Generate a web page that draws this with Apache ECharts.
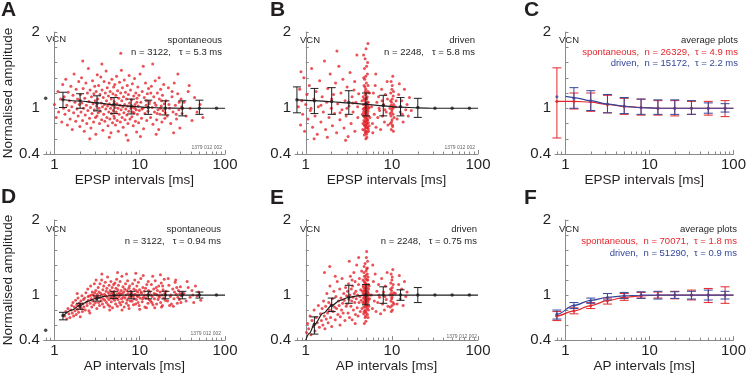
<!DOCTYPE html>
<html>
<head>
<meta charset="utf-8">
<title>VCN normalised amplitude vs interval</title>
<script src="https://cdn.jsdelivr.net/npm/echarts@6/dist/echarts.min.js"></script>
<style>
  html, body { margin: 0; padding: 0; background: #fff; }
  #chart { width: 749px; height: 374px; }
</style>
</head>
<body>
<div id="chart"></div>
<script>
// shared bin centres (ms) and tick values
var bins = [0.79, 1.26, 2, 3.16, 5, 7.94, 12.6, 20, 31.6, 50.1, 79.4];
var xTickLabels = [1, 10, 100];
var xMinorTicks = [0.8, 0.9, 2, 3, 4, 5, 6, 7, 8, 9, 20, 30, 40, 50, 60, 70, 80, 90];
var yTickLabels = [0.4, 1, 2];

// A: EPSP, spontaneous
var epspSpontPts = [[1.0,1.05],[1.05,0.88],[1.1,1.22],[1.12,0.95],[1.18,1.12],[1.22,0.82],[1.25,1.31],[1.28,1.0],
  [1.3,1.15],[1.33,0.92],[1.36,1.38],[1.4,1.04],[1.42,0.78],[1.45,1.21],[1.48,0.97],[1.5,1.1],[1.53,0.86],[1.56,1.29],[1.6,1.02],[1.62,0.72],[1.65,1.17],[1.68,0.94],[1.7,1.45],[1.74,1.08],[1.78,0.83],[1.8,1.25],[1.84,0.99],[1.87,1.12],[1.9,0.9],[1.93,1.35],[1.96,1.05],[1.99,0.76],
  [2.02,1.18],[2.05,0.95],[2.08,1.4],[2.1,1.07],[2.14,0.84],[2.17,1.26],[2.2,1.0],[2.24,0.7],[2.27,1.13],[2.3,0.91],[2.34,1.33],[2.37,1.04],[2.4,0.8],[2.44,1.2],[2.47,0.97],[2.5,1.52],[2.54,1.09],[2.58,0.87],[2.62,1.24],[2.65,1.01],[2.68,0.74],[2.72,1.15],[2.76,0.93],[2.8,1.36],[2.84,1.06],[2.88,0.82],[2.9,1.19],[2.94,0.98],[2.97,1.29],[3.0,1.1],[3.03,0.88],[3.06,0.66],[3.09,1.22],[3.12,1.03],[3.15,0.9],[3.18,1.44],[2.15,1.62],[2.6,0.6],
  [3.22,1.12],[3.26,0.94],[3.3,1.3],[3.34,1.0],[3.38,0.8],[3.42,1.18],[3.46,0.96],[3.5,1.41],[3.54,1.07],[3.58,0.85],[3.62,1.24],[3.66,1.02],[3.7,0.71],[3.74,1.14],[3.78,0.92],[3.82,1.35],[3.86,1.05],[3.9,0.83],[3.95,1.2],[4.0,0.99],[4.04,1.49],[4.08,1.1],[4.12,0.88],[4.16,1.27],[4.2,1.03],[4.25,0.77],[4.3,1.16],[4.34,0.95],[4.38,1.33],[4.42,1.06],[4.46,0.86],[4.5,1.22],[4.55,1.0],[4.6,0.68],[4.64,1.12],[4.68,0.93],[4.72,1.38],[4.76,1.04],[4.8,0.81],[4.85,1.19],[4.9,0.97],[4.95,1.28],[4.98,0.9],[3.6,1.58],[4.4,0.62],
  [5.02,1.09],[5.06,0.87],[5.1,1.31],[5.15,1.01],[5.2,0.78],[5.25,1.17],[5.3,0.95],[5.35,1.42],[5.4,1.06],[5.45,0.84],[5.5,1.23],[5.56,1.0],[5.62,0.7],[5.68,1.13],[5.74,0.92],[5.8,1.34],[5.86,1.04],[5.92,0.82],[5.98,1.2],[6.04,0.98],[6.1,1.5],[6.16,1.1],[6.22,0.88],[6.28,1.27],[6.34,1.02],[6.4,0.75],[6.46,1.15],[6.52,0.94],[6.6,1.37],[6.66,1.05],[6.72,0.85],[6.8,1.21],[6.86,0.99],[6.92,0.65],[7.0,1.12],[7.06,0.91],[7.14,1.3],[7.2,1.03],[7.28,0.8],[7.36,1.18],[7.44,0.96],[7.52,1.43],[7.6,1.07],[7.7,0.86],[7.8,1.24],[7.9,1.0],[6.0,1.72],[7.3,0.58],
  [8.0,1.11],[8.1,0.89],[8.2,1.32],[8.3,1.02],[8.4,0.77],[8.5,1.16],[8.6,0.94],[8.7,1.39],[8.8,1.05],[8.9,0.83],[9.0,1.2],[9.1,0.98],[9.2,0.69],[9.3,1.13],[9.4,0.92],[9.5,1.28],[9.6,1.03],[9.7,0.81],[9.8,1.17],[9.9,0.97],[10.1,1.45],[10.3,1.08],[10.5,0.87],[10.7,1.22],[10.9,1.0],[11.1,0.73],[11.3,1.14],[11.5,0.93],[11.7,1.33],[11.9,1.04],[12.1,0.84],[12.3,1.19],[12.5,0.96],[12.7,1.26],[12.9,1.06],[10.2,0.63],[11.0,1.55],[8.25,0.95],[9.25,1.08],[10.6,0.99],[12.0,1.1],[8.75,1.0],
  [13.1,1.09],[13.4,0.88],[13.7,1.29],[14.0,1.01],[14.3,0.79],[14.6,1.15],[14.9,0.95],[15.2,1.36],[15.5,1.04],[15.8,0.85],[16.1,1.2],[16.4,0.98],[16.7,0.72],[17.0,1.12],[17.3,0.92],[17.6,1.25],[17.9,1.03],[18.2,0.82],[18.5,1.17],[18.8,0.97],[19.1,1.31],[19.4,1.06],[19.7,0.87],[14.2,1.58],[15.0,1.07],[16.0,0.93],[17.5,1.0],[18.0,1.1],[13.5,1.2],[19.9,0.94],[15.6,0.66],[16.9,1.4],
  [20.3,1.1],[21.0,0.9],[21.7,1.27],[22.4,1.0],[23.1,0.8],[23.9,1.15],[24.6,0.95],[25.4,1.33],[26.2,1.04],[27.0,0.86],[27.9,1.19],[28.8,0.98],[29.6,0.74],[30.5,1.12],[31.4,0.93],[22.0,1.05],[24.0,1.22],[26.8,0.92],[29.0,1.08],[25.0,0.68],[28.0,1.45],[31.0,1.02],
  [33,1.08],[35,0.9],[37,1.22],[39,1.0],[41,0.84],[44,1.14],[47,0.95],[51,1.05],[55,0.88],[38,1.3]];
var epspSpontMean = [1.13, 1.11, 1.097, 1.066, 1.053, 1.03, 1.01, 1.0, 1.0, 1.0, 1.0];
var epspSpontLo = [null, 1.01, 1.0, 0.965, 0.93, 0.925, 0.92, 0.912, 0.9, 0.92, null];
var epspSpontHi = [null, 1.21, 1.19, 1.163, 1.14, 1.12, 1.106, 1.097, 1.097, 1.106, null];
var epspSpontFit = [[1.26,1.115],[2,1.095],[3.16,1.07],[5,1.045],[7.94,1.025],[12.6,1.01],[20,1.003],[31.6,1.0],[100,1.0]];

// B: EPSP, driven
var epspDrivenPts = [[0.82,1.02],[0.85,1.25],[0.87,0.78],[0.9,1.1],[0.92,0.92],[0.95,1.4],[0.97,0.7],[1.0,1.05],[1.03,1.18],[1.06,0.86],[1.1,1.3],[1.13,0.97],[1.17,1.52],[1.2,0.75],[1.24,1.12],[1.28,0.9],[1.32,1.22],[1.36,0.66],[1.4,1.02],[1.45,1.36],[1.5,0.82],[1.55,1.15],[1.6,0.95],[1.65,1.62],[1.7,0.72],[1.75,1.08],[1.8,1.26],[1.86,0.88],[1.92,1.45],[1.98,1.0],[2.04,0.77],[2.1,1.18],[2.16,0.93],[2.22,1.33],[2.28,0.68],[2.35,1.06],[2.42,1.55],[2.49,0.85],[2.56,1.2],[2.63,0.98],[2.7,1.38],[2.78,0.74],[2.86,1.1],[2.94,0.9],[3.02,1.28],[3.1,0.63],[3.18,1.03],[3.27,1.47],[3.36,0.8],[3.45,1.15],[3.54,0.95],[3.63,1.24],[3.72,0.7],[3.82,1.08],[3.92,1.7],[4.02,0.88],[4.12,1.19],[1.15,1.0],[1.5,1.04],[2.0,1.12],[2.5,0.94],[3.0,1.0],[3.5,1.07],[4.0,1.02],[1.25,0.6],[2.3,1.75],[0.88,1.48],[1.78,0.62],[2.9,0.58],[3.7,1.35],
  [4.6,0.72],[4.7,0.95],[4.75,1.3],[4.8,0.82],[4.85,1.1],[4.9,0.68],[4.95,1.02],[5.0,0.88],[5.05,1.2],[5.1,0.76],[5.15,0.98],[5.2,1.45],[5.25,0.85],[5.3,1.08],[5.35,0.7],[4.65,1.15],[4.72,0.9],[4.78,0.78],[4.83,1.38],[4.88,1.0],[4.93,0.74],[4.98,1.25],[5.03,0.92],[5.08,0.66],[5.13,1.12],[5.18,0.8],[5.23,1.6],[5.28,0.96],[5.33,0.73],[4.68,1.05],[4.74,0.84],[4.8,1.52],[4.86,0.77],[4.91,1.18],[4.96,0.94],[5.01,0.7],[5.06,1.33],[5.11,0.86],[5.16,1.04],[5.21,0.75],[5.26,1.22],[5.31,0.9],[4.62,0.8],[4.7,1.7],[4.77,1.0],[4.82,0.71],[4.87,1.28],[4.92,0.87],[4.97,1.42],[5.02,0.79],[5.07,1.06],[5.12,0.62],[5.17,1.15],[5.22,0.93],[5.27,1.85],[5.32,0.81],[5.4,1.0],[5.45,0.77],[5.5,1.2],[4.55,0.92],[4.5,1.1],[5.55,0.88],[4.84,0.97],[4.94,0.83],[5.04,1.0],[5.14,0.9],[5.24,1.08],[4.76,1.12],[4.99,0.6],[5.09,1.55],[4.89,1.65],[5.19,0.69],[4.81,0.89],[5.0,1.13],[4.91,1.06],[5.06,0.96],[4.96,0.78],[5.11,0.74],[4.86,0.93],[5.01,1.78],[4.71,1.4],[5.29,1.3],[4.79,0.65],[5.34,1.02],[4.64,0.99],[5.16,0.84],[4.9,1.22],[5.05,0.82],[4.98,1.03],[5.2,1.0],
  [5.8,1.02],[5.95,0.8],[6.1,1.2],[6.25,0.92],[6.4,1.3],[6.55,0.75],[6.7,1.08],[6.85,0.88],[7.0,1.15],[7.2,0.97],[7.4,0.72],[7.6,1.25],[7.8,0.9],[8.0,1.05],[8.2,0.82],[8.4,1.18],[8.6,0.95],[8.8,1.35],[9.0,0.78],[6.0,0.68],[6.5,1.45],[7.1,1.0],[7.7,1.1],[8.3,0.98],[8.9,1.12],
  [9.5,1.0],[9.6,0.8],[9.7,1.2],[9.75,0.9],[9.8,1.35],[9.85,0.72],[9.9,1.08],[9.95,0.95],[10.0,1.25],[10.05,0.85],[10.1,1.12],[10.15,0.78],[10.2,1.02],[10.25,1.42],[10.3,0.92],[10.35,1.16],[10.4,0.7],[10.5,1.05],[10.6,0.88],[9.65,1.1],[9.9,0.82],[10.0,0.98],[10.1,1.3],[10.2,0.76],[9.8,1.04],[10.3,1.0],[9.55,0.93],[10.45,1.22],
  [11,1.02],[11.5,0.86],[12,1.18],[12.5,0.95],[13,1.1],[13.5,0.82],[14,1.25],[14.5,0.98],[15,1.05],[15.5,0.9],[16,1.14],[12.2,1.32],[13.2,0.92],[11.2,1.1],[16.8,0.97]];
var epspDrivenMean = [1.11, 1.10, 1.09, 1.075, 1.06, 1.035, 1.02, 1.01, 1.0, 1.0, 1.0];
var epspDrivenLo = [0.94, 0.93, 0.92, 0.92, 0.9, 0.9, 0.9, 0.88, null, null, null];
var epspDrivenHi = [1.28, 1.26, 1.27, 1.23, 1.2, 1.17, 1.14, 1.13, null, null, null];
var epspDrivenFit = [[0.79,1.11],[1.26,1.1],[2,1.085],[3.16,1.07],[5,1.05],[7.94,1.03],[12.6,1.015],[20,1.005],[31.6,1.0],[100,1.0]];

// C: EPSP, average plots
var epspAvgSpontMean = [1.09, 1.09, 1.085, 1.045, 1.02, 1.01, 1.0, 1.0, 1.0, 1.0, 1.0];
var epspAvgSpontLo = [0.61, 0.99, 0.96, 0.94, 0.92, 0.91, 0.91, 0.9, 0.92, 0.91, 0.89];
var epspAvgSpontHi = [1.53, 1.2, 1.2, 1.17, 1.13, 1.12, 1.1, 1.1, 1.09, 1.09, 1.1];
var epspAvgSpontFit = [[0.76,1.09],[1.26,1.09],[2,1.08],[3.16,1.05],[5,1.025],[7.94,1.01],[12.6,1.0],[100,1.0]];
var epspAvgDrivenMean = [1.15, 1.13, 1.10, 1.055, 1.03, 1.01, 1.0, 1.0, 1.0, 1.0, 1.0];
var epspAvgDrivenLo = [null, 1.0, 0.97, 0.94, 0.93, 0.92, 0.92, 0.92, 0.92, 0.935, 0.95];
var epspAvgDrivenHi = [null, 1.27, 1.23, 1.18, 1.14, 1.12, 1.11, 1.11, 1.1, 1.07, 1.06];
var epspAvgDrivenFit = [[1.0,1.155],[1.26,1.14],[2,1.1],[3.16,1.055],[5,1.025],[7.94,1.008],[12.6,1.0],[100,1.0]];

// D: AP, spontaneous
var apSpontPts = [[1.32,0.72],[1.36,0.78],[1.4,0.68],[1.44,0.82],[1.48,0.75],[1.52,0.7],[1.56,0.8],[1.6,0.86],
  [1.62,0.76],[1.65,0.9],[1.68,0.72],[1.71,0.84],[1.74,0.79],[1.77,0.93],[1.8,0.74],[1.83,0.87],[1.86,0.81],[1.89,0.96],[1.92,0.77],[1.95,0.89],[1.98,0.84],[2.01,0.71],[2.04,0.92],[2.07,0.82],[2.1,0.99],[2.13,0.78],[2.16,0.88],[2.19,0.94],[1.85,1.02],[2.0,0.86],
  [2.22,0.84],[2.26,0.96],[2.3,0.8],[2.34,1.03],[2.38,0.9],[2.42,0.86],[2.46,1.08],[2.5,0.93],[2.54,0.79],[2.58,0.99],[2.62,0.89],[2.66,1.12],[2.7,0.95],[2.74,0.84],[2.78,1.04],[2.82,0.92],[2.86,1.0],[2.9,0.87],[2.94,1.15],[2.98,0.97],[3.02,0.9],[3.06,1.06],[3.1,0.95],[3.14,0.82],[3.18,1.01],[2.48,0.98],[2.72,1.0],[2.96,1.03],[3.08,1.2],[2.6,0.76],
  [3.22,0.98],[3.26,1.1],[3.3,0.9],[3.34,1.04],[3.38,0.86],[3.42,1.15],[3.46,0.96],[3.5,1.02],[3.54,0.92],[3.58,1.2],[3.62,1.0],[3.66,0.88],[3.7,1.07],[3.74,0.95],[3.78,1.12],[3.82,0.84],[3.86,1.01],[3.9,0.93],[3.95,1.17],[4.0,0.99],[4.04,1.05],[4.08,0.9],[4.12,1.09],[4.16,0.97],[4.2,1.24],[4.25,0.87],[4.3,1.03],[4.34,0.94],[4.38,1.13],[4.42,1.0],[4.46,0.85],[4.5,1.06],[4.55,0.96],[4.6,1.18],[4.64,0.91],[4.68,1.02],[4.72,0.98],[4.76,1.1],[4.8,0.83],[4.85,1.04],[4.9,0.95],[4.95,1.14],[4.98,1.0],[3.6,1.28],[4.45,0.8],
  [5.02,1.05],[5.07,0.93],[5.12,1.16],[5.17,0.99],[5.22,0.88],[5.27,1.09],[5.32,0.96],[5.37,1.21],[5.42,1.01],[5.47,0.85],[5.52,1.07],[5.58,0.94],[5.64,1.13],[5.7,0.98],[5.76,1.03],[5.82,0.9],[5.88,1.18],[5.94,1.0],[6.0,0.87],[6.06,1.06],[6.12,0.95],[6.18,1.25],[6.24,1.02],[6.3,0.91],[6.36,1.11],[6.42,0.97],[6.5,1.04],[6.58,0.84],[6.66,1.08],[6.74,0.96],[6.82,1.15],[6.9,1.0],[6.98,0.89],[7.06,1.06],[7.14,0.93],[7.22,1.19],[7.3,1.02],[7.38,0.86],[7.46,1.09],[7.54,0.97],[7.62,1.12],[7.7,1.0],[7.78,0.92],[7.86,1.05],[7.94,0.99],[5.5,1.3],[6.2,0.8],[7.0,1.28],[7.5,0.82],[5.9,1.01],
  [8.05,1.03],[8.15,0.92],[8.25,1.15],[8.35,0.98],[8.45,0.87],[8.55,1.08],[8.65,0.95],[8.75,1.2],[8.85,1.01],[8.95,0.88],[9.05,1.06],[9.15,0.94],[9.25,1.12],[9.35,0.99],[9.45,1.04],[9.55,0.9],[9.65,1.17],[9.75,1.0],[9.85,0.86],[9.95,1.07],[10.1,0.96],[10.3,1.22],[10.5,1.02],[10.7,0.91],[10.9,1.1],[11.1,0.97],[11.3,1.05],[11.5,0.84],[11.7,1.09],[11.9,0.96],[12.1,1.14],[12.3,1.0],[12.5,0.89],[12.7,1.06],[12.9,0.94],[9.0,1.29],[10.0,0.81],[11.0,1.26],[12.0,0.83],[8.5,1.0],[9.5,0.98],[10.4,1.04],[11.4,1.0],[12.6,1.18],[10.8,0.95],
  [13.1,1.04],[13.4,0.92],[13.7,1.14],[14.0,0.98],[14.3,0.87],[14.6,1.08],[14.9,0.95],[15.2,1.19],[15.5,1.01],[15.8,0.88],[16.1,1.06],[16.4,0.94],[16.7,1.12],[17.0,0.99],[17.3,1.04],[17.6,0.9],[17.9,1.16],[18.2,1.0],[18.5,0.86],[18.8,1.07],[19.1,0.96],[19.4,1.21],[19.7,1.02],[14.2,1.25],[15.0,0.83],[16.0,1.0],[17.5,1.27],[18.0,0.84],[13.5,1.0],[19.9,0.93],[15.6,1.1],[16.9,0.97],[14.8,1.02],[18.6,1.12],[13.9,0.9],
  [20.4,1.05],[21.2,0.92],[22.0,1.13],[22.8,0.98],[23.6,0.88],[24.4,1.08],[25.2,0.95],[26.0,1.17],[26.8,1.01],[27.6,0.89],[28.4,1.06],[29.2,0.94],[30.0,1.11],[30.8,0.99],[31.6,1.03],[21.6,1.22],[23.2,1.0],[24.8,0.85],[26.4,1.2],[28.0,0.97],[29.6,1.02],[22.4,0.86],[25.6,1.04],[27.2,1.1],[30.4,0.9],
  [33,1.02],[35,0.92],[37,1.1],[39,0.97],[41,1.06],[43,0.9],[45,1.12],[47,0.99],[49,1.04],[52,0.93],[36,1.18],[42,1.0]];
var apSpontMean = [0.53, 0.727, 0.855, 0.956, 1.0, 1.0, 1.0, 1.0, 1.0, 1.0, 1.0];
var apSpontLo = [null, 0.67, 0.81, 0.92, 0.956, 0.95, 0.95, 0.95, 0.95, 0.96, null];
var apSpontHi = [null, 0.77, 0.89, 0.99, 1.044, 1.05, 1.05, 1.05, 1.05, 1.04, null];
var apSpontFit = [[1.26,0.72],[1.6,0.8],[2,0.865],[2.5,0.92],[3.16,0.96],[4,0.985],[5,0.997],[7.94,1.0],[100,1.0]];

// E: AP, driven
var apDrivenPts = [[1.02,0.5],[1.05,0.62],[1.08,0.55],[1.12,0.72],[1.15,0.47],[1.18,0.66],[1.22,0.58],[1.25,0.8],[1.28,0.52],[1.32,0.7],[1.36,0.63],[1.4,0.86],[1.44,0.57],[1.48,0.75],
  [1.52,0.66],[1.55,0.82],[1.58,0.6],[1.61,0.92],[1.64,0.72],[1.67,0.55],[1.7,0.85],[1.73,0.68],[1.76,1.02],[1.79,0.76],[1.82,0.63],[1.85,0.9],[1.88,0.8],[1.91,1.12],[1.94,0.7],[1.97,0.87],[2.0,0.58],[2.04,0.95],[2.08,0.78],[2.12,1.05],[2.16,0.84],[2.2,0.67],[2.24,0.98],[2.28,0.82],[2.32,1.18],[2.36,0.74],[2.4,0.92],[2.44,0.86],[2.48,1.08],[2.52,0.71],[2.56,0.96],[2.6,0.8],[2.64,1.22],[2.68,0.89],[2.72,0.76],[2.76,1.02],[2.8,0.93],[2.85,0.66],[2.9,1.1],[2.95,0.85],[1.65,1.3],[1.9,1.38],[2.2,1.25],[2.5,0.6],[2.98,0.99],
  [3.02,0.88],[3.06,1.05],[3.1,0.76],[3.14,1.15],[3.18,0.94],[3.22,0.7],[3.26,1.0],[3.3,1.25],[3.34,0.85],[3.38,1.08],[3.42,0.92],[3.46,0.67],[3.5,1.12],[3.54,0.97],[3.58,0.8],[3.62,1.3],[3.66,1.02],[3.7,0.9],[3.74,1.18],[3.78,0.74],[3.82,1.05],[3.86,0.95],[3.9,1.4],[3.95,0.83],[4.0,1.0],[4.05,0.72],[4.1,1.14],[4.15,0.9],[4.2,1.22],[4.25,0.98],[4.3,0.78],[4.35,1.07],[4.4,0.93],[4.45,1.32],[3.2,1.45],[3.75,0.62],[4.12,1.5],[3.45,1.2],
  [4.6,0.9],[4.7,1.1],[4.75,0.78],[4.8,1.25],[4.85,0.95],[4.9,1.05],[4.95,0.72],[5.0,1.15],[5.05,0.86],[5.1,1.35],[5.15,1.0],[5.2,0.82],[5.25,1.2],[5.3,0.93],[5.35,1.08],[4.65,1.02],[4.72,0.84],[4.78,1.18],[4.83,0.97],[4.88,1.42],[4.93,0.88],[4.98,1.12],[5.03,0.76],[5.08,1.04],[5.13,0.92],[5.18,1.28],[5.23,0.98],[5.28,0.7],[5.33,1.14],[4.68,0.96],[4.74,1.3],[4.8,0.9],[4.86,1.08],[4.91,0.8],[4.96,1.22],[5.01,1.0],[5.06,1.5],[5.11,0.88],[5.16,1.1],[5.21,0.74],[5.26,1.04],[5.31,0.95],[4.62,1.2],[4.7,0.75],[4.77,1.06],[4.82,0.92],[4.87,1.16],[4.92,1.0],[4.97,0.84],[5.02,1.32],[5.07,0.96],[5.12,1.2],[5.17,0.86],[5.22,1.45],[5.27,0.9],[5.32,1.02],[5.4,0.85],[5.45,1.12],[5.5,0.95],[4.55,1.05],[4.5,0.82],[5.55,1.0],[4.84,1.02],[4.94,1.09],[5.04,0.99],[5.14,1.06],[5.24,0.94],[4.76,1.38],[4.99,0.65],[5.09,1.58],[4.89,0.7],[5.19,1.36],[4.81,1.0],[5.0,1.26],[4.91,0.95],[5.06,1.14],[4.96,0.78],[5.11,1.02],[4.86,0.88],[5.01,0.92],[4.71,1.0],[5.29,1.24],[4.79,0.62],[5.34,0.8],[4.64,1.12],
  [5.8,1.0],[5.95,0.82],[6.1,1.18],[6.25,0.92],[6.4,1.28],[6.55,0.78],[6.7,1.05],[6.85,0.9],[7.0,1.14],[7.2,0.97],[7.4,0.75],[7.6,1.22],[7.8,0.88],[8.0,1.04],[8.2,0.8],[8.4,1.12],[8.6,0.94],[8.8,1.3],[9.0,0.85],[6.0,1.4],[7.1,1.0],[8.3,0.98],
  [9.5,1.0],[9.6,0.84],[9.7,1.16],[9.75,0.92],[9.8,1.28],[9.85,0.78],[9.9,1.06],[9.95,0.95],[10.0,1.2],[10.05,0.86],[10.1,1.1],[10.15,0.8],[10.2,1.0],[10.25,1.34],[10.3,0.9],[10.35,1.14],[10.5,1.03],[10.6,0.88],[9.65,1.08],[10.0,0.97],[10.1,1.24],[9.8,1.02],
  [11,1.02],[11.5,0.88],[12,1.14],[12.5,0.95],[13,1.08],[13.5,0.86],[14,1.18],[14.5,0.98],[15,1.04],[12.2,1.26]];
var apDrivenMean = [null, 0.61, 0.86, 0.97, 1.0, 1.0, 1.0, 1.0, 1.0, 1.0, 1.0];
var apDrivenLo = [null, 0.48, 0.78, 0.89, 0.87, 0.89, 0.93, 0.9, null, null, null];
var apDrivenHi = [null, 0.71, 0.96, 1.13, 1.14, 1.11, 1.07, 1.1, null, null, null];
var apDrivenFit = [[1.0,0.4],[1.1,0.49],[1.26,0.61],[1.6,0.76],[2,0.86],[2.5,0.93],[3.16,0.97],[4,0.99],[5,1.0],[100,1.0]];

// F: AP, average plots
var apAvgSpontMean = [0.722, 0.788, 0.859, 0.92, 0.97, 0.99, 1.0, 1.0, 1.0, 1.0, 1.0];
var apAvgSpontLo = [0.66, 0.75, 0.82, 0.88, 0.93, 0.96, 0.96, 0.95, 0.935, 0.9, 0.89];
var apAvgSpontHi = [0.78, 0.83, 0.9, 0.96, 1.02, 1.035, 1.04, 1.05, 1.066, 1.088, 1.11];
var apAvgSpontFit = [[0.76,0.71],[0.79,0.722],[1.26,0.79],[2,0.86],[3.16,0.925],[5,0.97],[7.94,0.99],[12.6,0.998],[20,1.0],[100,1.0]];
var apAvgDrivenMean = [0.744, 0.859, 0.925, 0.969, 0.99, 1.0, 1.0, 1.0, 1.0, 1.0, 1.0];
var apAvgDrivenLo = [0.68, 0.82, 0.89, 0.935, 0.955, 0.956, 0.947, 0.956, 0.947, 0.934, 0.947];
var apAvgDrivenHi = [0.8, 0.9, 0.96, 1.02, 1.035, 1.044, 1.05, 1.044, 1.05, 1.066, 1.05];
var apAvgDrivenFit = [[0.76,0.73],[0.79,0.744],[1.26,0.862],[2,0.93],[3.16,0.97],[5,0.99],[7.94,0.998],[12.6,1.0],[100,1.0]];

var RED = '#e4262c';
var BLUE = '#34479a';
var BLACK = '#1e1e1e';
var AXIS = '#8a8a8a';
var TEXT = '#231f20';
var FONT = '"Liberation Sans", Arial, sans-serif';

var layout = [
  {left: 41, top: 32, width: 184}, {left: 295, top: 32, width: 183}, {left: 555, top: 32, width: 182},
  {left: 41, top: 220, width: 184}, {left: 295, top: 220, width: 183}, {left: 555, top: 220, width: 182}
];

function lx(v) { return Math.log10(v); }

function scatterSeries(i, pts) {
  return {
    type: 'scatter', xAxisIndex: i, yAxisIndex: i, silent: true,
    symbolSize: 3, itemStyle: {color: RED},
    data: pts.map(function (p) { return [lx(p[0]), p[1]]; }), z: 1
  };
}

function fitSeries(i, pts, color) {
  return {
    type: 'line', xAxisIndex: i, yAxisIndex: i, silent: true,
    smooth: 0.35, smoothMonotone: 'x', showSymbol: false, symbol: 'none',
    lineStyle: {color: color, width: 1.2},
    data: pts.map(function (p) { return [lx(p[0]), p[1]]; }), z: 3
  };
}

function meanSeries(i, mean, color, size) {
  var d = [];
  bins.forEach(function (b, k) { if (mean[k] != null) d.push([lx(b), mean[k]]); });
  return {
    type: 'scatter', xAxisIndex: i, yAxisIndex: i, silent: true,
    symbolSize: size, itemStyle: {color: color}, data: d, z: 5
  };
}

function errorSeries(i, lo, hi, color, cap) {
  var d = [];
  bins.forEach(function (b, k) { if (lo[k] != null) d.push([lx(b), lo[k], hi[k]]); });
  return {
    type: 'custom', xAxisIndex: i, yAxisIndex: i, silent: true,
    encode: {x: 0, y: [1, 2]},
    data: d, z: 4,
    renderItem: function (params, api) {
      var top = api.coord([api.value(0), api.value(2)]);
      var bot = api.coord([api.value(0), api.value(1)]);
      var st = {stroke: color, lineWidth: 1};
      return {
        type: 'group', children: [
          {type: 'line', shape: {x1: top[0], y1: top[1], x2: bot[0], y2: bot[1]}, style: st},
          {type: 'line', shape: {x1: top[0] - cap, y1: top[1], x2: top[0] + cap, y2: top[1]}, style: st},
          {type: 'line', shape: {x1: bot[0] - cap, y1: bot[1], x2: bot[0] + cap, y2: bot[1]}, style: st}
        ]
      };
    }
  };
}

var grid = [], xAxis = [], yAxis = [], series = [], graphic = [];
var xMin = Math.log10(0.75), xMax = 2;

layout.forEach(function (p, i) {
  grid.push({left: p.left, top: p.top, width: p.width, height: 122});
  xAxis.push({
    type: 'value', gridIndex: i, min: xMin, max: xMax, position: 'bottom',
    name: i < 3 ? 'EPSP intervals [ms]' : 'AP intervals [ms]',
    nameLocation: 'middle', nameGap: 18,
    nameTextStyle: {fontFamily: FONT, fontSize: 13.5, color: TEXT},
    axisLine: {show: true, lineStyle: {color: AXIS, width: 1}},
    axisTick: {show: true, inside: true, length: 4, customValues: xTickLabels.map(lx), lineStyle: {color: AXIS}},
    axisLabel: {
      customValues: xTickLabels.map(lx), margin: 3, fontSize: 15, color: TEXT, fontFamily: FONT,
      formatter: function (v) { return String(Math.round(Math.pow(10, v))); }
    },
    splitLine: {show: false}
  });
  yAxis.push({
    type: 'value', gridIndex: i, min: 0.4, max: 2, interval: 0.2,
    name: (i === 0 || i === 3) ? 'Normalised amplitude' : '',
    nameLocation: 'middle', nameGap: 25,
    nameTextStyle: {fontFamily: FONT, fontSize: 13.5, color: TEXT},
    axisLine: {show: true, lineStyle: {color: AXIS, width: 1}},
    axisTick: {show: true, inside: true, length: 3, lineStyle: {color: AXIS}},
    axisLabel: {
      customValues: yTickLabels, margin: 4, fontSize: 15, color: TEXT, fontFamily: FONT,
      formatter: function (v) { return String(v); }
    },
    splitLine: {show: false}
  });
});
// minor log ticks
layout.forEach(function (p, i) {
  xAxis.push({
    type: 'value', gridIndex: i, min: xMin, max: xMax, position: 'bottom',
    axisLine: {show: false}, axisLabel: {show: false}, splitLine: {show: false},
    axisTick: {show: true, inside: true, length: 2.5, customValues: xMinorTicks.map(lx), lineStyle: {color: AXIS}}
  });
});

// A
series.push(scatterSeries(0, epspSpontPts));
series.push(fitSeries(0, epspSpontFit, BLACK));
series.push(errorSeries(0, epspSpontLo, epspSpontHi, BLACK, 4));
series.push(meanSeries(0, epspSpontMean, BLACK, 3.5));
// B
series.push(scatterSeries(1, epspDrivenPts));
series.push(fitSeries(1, epspDrivenFit, BLACK));
series.push(errorSeries(1, epspDrivenLo, epspDrivenHi, BLACK, 4));
series.push(meanSeries(1, epspDrivenMean, BLACK, 3.5));
// C
series.push(fitSeries(2, epspAvgSpontFit, RED));
series.push(errorSeries(2, epspAvgSpontLo, epspAvgSpontHi, RED, 4.5));
series.push(meanSeries(2, epspAvgSpontMean, RED, 3));
series.push(fitSeries(2, epspAvgDrivenFit, BLUE));
series.push(errorSeries(2, epspAvgDrivenLo, epspAvgDrivenHi, BLUE, 4.5));
series.push(meanSeries(2, epspAvgDrivenMean, BLUE, 3));
// D
series.push(scatterSeries(3, apSpontPts));
series.push(fitSeries(3, apSpontFit, BLACK));
series.push(errorSeries(3, apSpontLo, apSpontHi, BLACK, 4));
series.push(meanSeries(3, apSpontMean, BLACK, 3.5));
// E
series.push(scatterSeries(4, apDrivenPts));
series.push(fitSeries(4, apDrivenFit, BLACK));
series.push(errorSeries(4, apDrivenLo, apDrivenHi, BLACK, 4));
series.push(meanSeries(4, apDrivenMean, BLACK, 3.5));
// F
series.push(fitSeries(5, apAvgSpontFit, RED));
series.push(errorSeries(5, apAvgSpontLo, apAvgSpontHi, RED, 4.5));
series.push(meanSeries(5, apAvgSpontMean, RED, 3));
series.push(fitSeries(5, apAvgDrivenFit, BLUE));
series.push(errorSeries(5, apAvgDrivenLo, apAvgDrivenHi, BLUE, 4.5));
series.push(meanSeries(5, apAvgDrivenMean, BLUE, 3));

function txt(x, y, text, opts) {
  opts = opts || {};
  return {
    type: 'text', x: x, y: y, silent: true,
    style: {
      text: text, fill: opts.color || TEXT,
      font: (opts.bold ? 'bold ' : '') + (opts.size || 10) + 'px ' + FONT,
      textAlign: opts.align || 'left', textVerticalAlign: 'middle'
    }
  };
}

// panel letters
[['A', 1, 10], ['B', 270, 10], ['C', 524, 10], ['D', 1, 197], ['E', 270, 198], ['F', 524, 198]].forEach(function (l) {
  graphic.push(txt(l[1], l[2], l[0], {bold: true, size: 21}));
});

var small = 9.5;
// A
graphic.push(txt(46, 39, 'VCN', {size: small}));
graphic.push(txt(222, 40, 'spontaneous', {size: small, align: 'right'}));
graphic.push(txt(222, 52, 'n = 3122,   \u03c4 = 5.3 ms', {size: small, align: 'right'}));
graphic.push(txt(222, 148, '1379 012 002', {size: 5, align: 'right', color: '#666'}));
// B
graphic.push(txt(300, 40, 'VCN', {size: small}));
graphic.push(txt(475, 40, 'driven', {size: small, align: 'right'}));
graphic.push(txt(475, 52, 'n = 2248,   \u03c4 = 5.8 ms', {size: small, align: 'right'}));
graphic.push(txt(475, 148, '1379 012 002', {size: 5, align: 'right', color: '#666'}));
// C
graphic.push(txt(559, 40, 'VCN', {size: small}));
graphic.push(txt(738, 40, 'average plots', {size: small, align: 'right'}));
graphic.push(txt(738, 52, 'spontaneous,  n = 26329,  \u03c4 = 4.9 ms', {size: small, align: 'right', color: RED}));
graphic.push(txt(738, 63, 'driven,  n = 15172,  \u03c4 = 2.2 ms', {size: small, align: 'right', color: BLUE}));
// D
graphic.push(txt(46, 229, 'VCN', {size: small}));
graphic.push(txt(221, 229, 'spontaneous', {size: small, align: 'right'}));
graphic.push(txt(221, 241, 'n = 3122,   \u03c4 = 0.94 ms', {size: small, align: 'right'}));
graphic.push(txt(221, 334, '1379 012 002', {size: 5, align: 'right', color: '#666'}));
// E
graphic.push(txt(300, 229, 'VCN', {size: small}));
graphic.push(txt(477, 229, 'driven', {size: small, align: 'right'}));
graphic.push(txt(477, 241, 'n = 2248,   \u03c4 = 0.75 ms', {size: small, align: 'right'}));
graphic.push(txt(477, 337, '1379 012 002', {size: 5, align: 'right', color: '#666'}));
// F
graphic.push(txt(559, 229, 'VCN', {size: small}));
graphic.push(txt(737, 229, 'average plots', {size: small, align: 'right'}));
graphic.push(txt(737, 241, 'spontaneous,  n = 70071,  \u03c4 = 1.8 ms', {size: small, align: 'right', color: RED}));
graphic.push(txt(737, 253, 'driven,  n = 51290,  \u03c4 = 0.9 ms', {size: small, align: 'right', color: BLUE}));

var chart = echarts.init(document.getElementById('chart'), null, {renderer: 'canvas'});
chart.setOption({
  animation: false,
  backgroundColor: '#fff',
  textStyle: {fontFamily: FONT},
  grid: grid,
  xAxis: xAxis,
  yAxis: yAxis,
  series: series,
  graphic: graphic
});
</script>
</body>
</html>
